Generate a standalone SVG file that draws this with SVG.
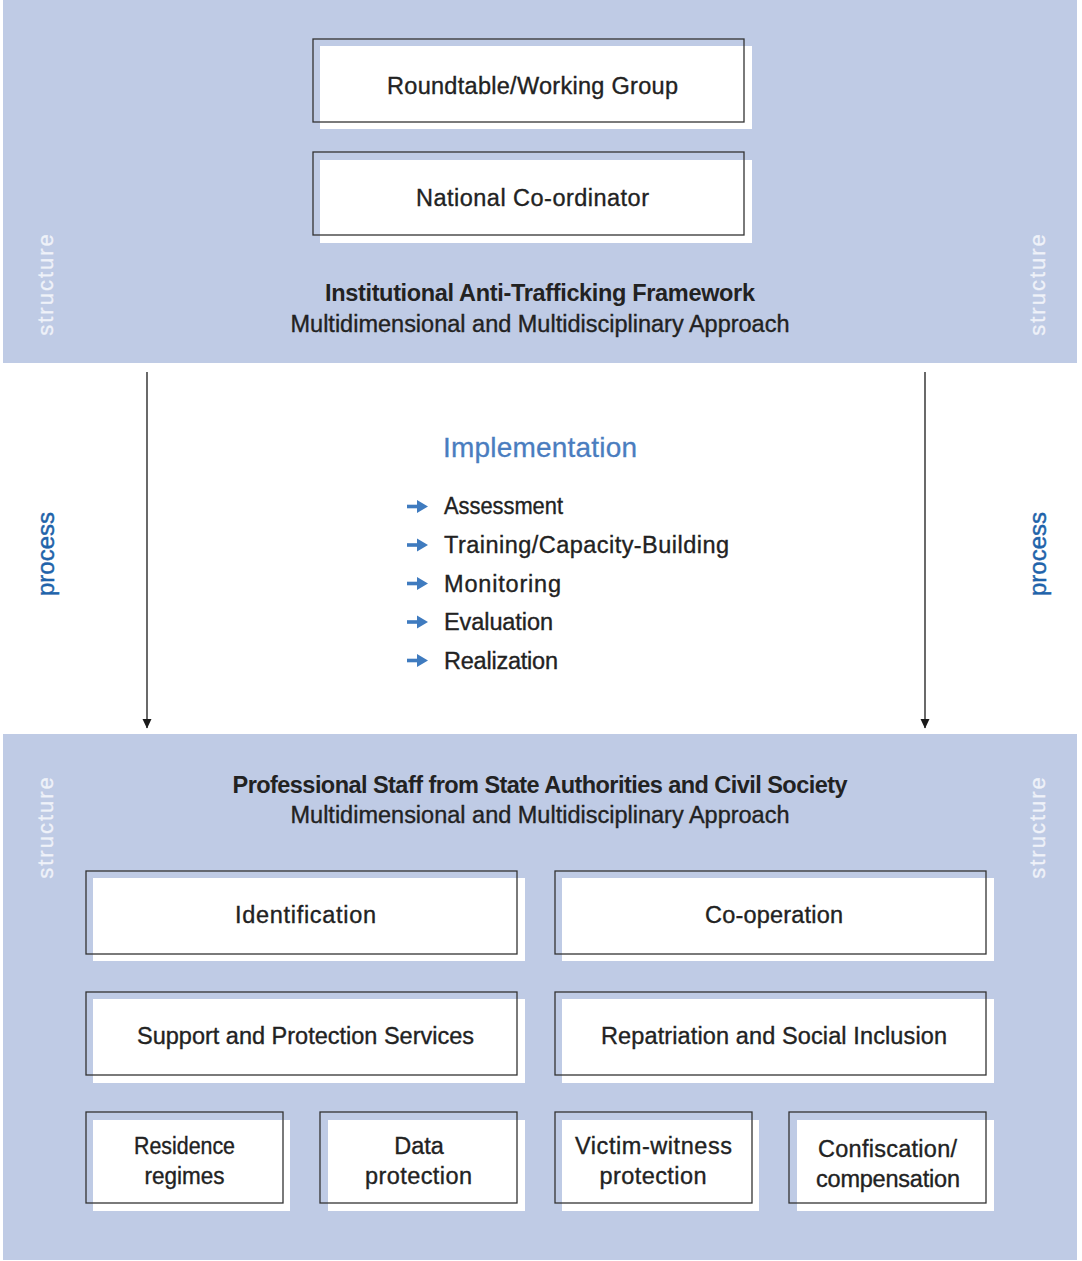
<svg xmlns="http://www.w3.org/2000/svg" xmlns:xlink="http://www.w3.org/1999/xlink" width="1082" height="1261" viewBox="0 0 1082 1261">
<style>
.panel{fill:#bfcbe5}
.shadow{fill:#ffffff}
.frame{fill:none;stroke:#333333;stroke-width:1.3}
.t{font-family:"Liberation Sans",Arial,sans-serif;fill:#222222;stroke:#222222;stroke-width:0.35;font-size:23.5px}
.b{font-weight:bold;stroke-width:0}
.c{text-anchor:middle}
.side{font-family:"Liberation Sans",Arial,sans-serif;fill:#eff2f9;stroke:#eff2f9;stroke-width:0.3;font-size:22px;letter-spacing:2px;text-anchor:middle}
.proc{font-family:"Liberation Sans",Arial,sans-serif;fill:#1f63aa;stroke:#1f63aa;stroke-width:0.45;font-size:24px;text-anchor:middle}
.impl{font-family:"Liberation Sans",Arial,sans-serif;fill:#4a7dbf;stroke:#4a7dbf;stroke-width:0.3;font-size:28px;text-anchor:middle}
.conn{stroke:#1a1a1a;stroke-width:1.3;fill:none}
.bullet{fill:#3f7bbf}
</style>
<defs>
<marker id="ah" markerWidth="10" markerHeight="10" refX="9" refY="5" orient="auto" markerUnits="userSpaceOnUse">
<path d="M0,0.5 L9.5,5 L0,9.5 Z" fill="#1a1a1a"/>
</marker>
<g id="blt">
<rect x="0" y="-1.8" width="12" height="3.6" class="bullet"/>
<path d="M10,-6.5 L21,0 L10,6.5 Z" class="bullet"/>
</g>
</defs>

<g id="panel-top">
<rect x="3" y="0" width="1074" height="363" class="panel"/>
<text class="side" transform="translate(53,284) rotate(-90)">structure</text>
<text class="side" transform="translate(1045,284) rotate(-90)">structure</text>
<text class="t b c" x="540" y="301" textLength="430" lengthAdjust="spacing">Institutional Anti-Trafficking Framework</text>
<text class="t c" x="540" y="332" textLength="499" lengthAdjust="spacing">Multidimensional and Multidisciplinary Approach</text>
</g>

<g id="node-roundtable">
<rect x="320" y="46" width="432" height="83" class="shadow"/>
<rect x="313" y="39" width="431" height="83" class="frame"/>
<text class="t c" x="532.5" y="94" font-size="24" textLength="291" lengthAdjust="spacing">Roundtable/Working Group</text>
</g>
<g id="node-coordinator">
<rect x="320" y="160" width="432" height="83" class="shadow"/>
<rect x="313" y="152" width="431" height="83" class="frame"/>
<text class="t c" x="532.5" y="206" font-size="24" textLength="233" lengthAdjust="spacing">National Co-ordinator</text>
</g>

<g id="implementation">
<text class="proc" transform="translate(54,554) rotate(-90)">process</text>
<text class="proc" transform="translate(1046,554) rotate(-90)">process</text>
<text class="impl" x="540" y="457" textLength="194" lengthAdjust="spacing">Implementation</text>
<use xlink:href="#blt" href="#blt" x="407" y="506.5"/>
<use xlink:href="#blt" href="#blt" x="407" y="545"/>
<use xlink:href="#blt" href="#blt" x="407" y="583.5"/>
<use xlink:href="#blt" href="#blt" x="407" y="622"/>
<use xlink:href="#blt" href="#blt" x="407" y="660.5"/>
<text class="t" x="444" y="514" font-size="24" textLength="119" lengthAdjust="spacingAndGlyphs">Assessment</text>
<text class="t" x="444" y="553" font-size="24" textLength="285" lengthAdjust="spacing">Training/Capacity-Building</text>
<text class="t" x="444" y="591.5" font-size="24" textLength="117" lengthAdjust="spacing">Monitoring</text>
<text class="t" x="444" y="630" font-size="24" textLength="109" lengthAdjust="spacing">Evaluation</text>
<text class="t" x="444" y="668.5" font-size="24" textLength="114" lengthAdjust="spacing">Realization</text>
</g>

<g id="connectors">
<line x1="147" y1="372" x2="147" y2="728" class="conn" marker-end="url(#ah)"/>
<line x1="925" y1="372" x2="925" y2="728" class="conn" marker-end="url(#ah)"/>
</g>

<g id="panel-bottom">
<rect x="3" y="734" width="1074" height="526" class="panel"/>
<text class="side" transform="translate(53,827) rotate(-90)">structure</text>
<text class="side" transform="translate(1045,827) rotate(-90)">structure</text>
<text class="t b c" x="540" y="793" textLength="615" lengthAdjust="spacing">Professional Staff from State Authorities and Civil Society</text>
<text class="t c" x="540" y="823" textLength="499" lengthAdjust="spacing">Multidimensional and Multidisciplinary Approach</text>
</g>

<g id="node-identification">
<rect x="93" y="878" width="432" height="83" class="shadow"/>
<rect x="86" y="871" width="431" height="83" class="frame"/>
<text class="t c" x="305.5" y="923" textLength="141" lengthAdjust="spacing">Identification</text>
</g>
<g id="node-cooperation">
<rect x="562" y="878" width="432" height="83" class="shadow"/>
<rect x="555" y="871" width="431" height="83" class="frame"/>
<text class="t c" x="774" y="923" textLength="138" lengthAdjust="spacing">Co-operation</text>
</g>
<g id="node-support">
<rect x="93" y="999" width="432" height="84" class="shadow"/>
<rect x="86" y="992" width="431" height="83" class="frame"/>
<text class="t c" x="305.5" y="1044" textLength="337" lengthAdjust="spacing">Support and Protection Services</text>
</g>
<g id="node-repatriation">
<rect x="562" y="999" width="432" height="84" class="shadow"/>
<rect x="555" y="992" width="431" height="83" class="frame"/>
<text class="t c" x="774" y="1044" textLength="346" lengthAdjust="spacing">Repatriation and Social Inclusion</text>
</g>
<g id="node-residence">
<rect x="93" y="1120" width="197" height="91" class="shadow"/>
<rect x="86" y="1112" width="197" height="91" class="frame"/>
<text class="t c" x="184.5" y="1154" textLength="101" lengthAdjust="spacingAndGlyphs">Residence</text>
<text class="t c" x="184.5" y="1184" textLength="80" lengthAdjust="spacingAndGlyphs">regimes</text>
</g>
<g id="node-data">
<rect x="328" y="1120" width="197" height="91" class="shadow"/>
<rect x="320" y="1112" width="197" height="91" class="frame"/>
<text class="t c" x="419" y="1154">Data</text>
<text class="t c" x="418.5" y="1184" textLength="107" lengthAdjust="spacing">protection</text>
</g>
<g id="node-victim">
<rect x="562" y="1120" width="197" height="91" class="shadow"/>
<rect x="555" y="1112" width="197" height="91" class="frame"/>
<text class="t c" x="653.5" y="1154" textLength="157" lengthAdjust="spacing">Victim-witness</text>
<text class="t c" x="653" y="1184" textLength="107" lengthAdjust="spacing">protection</text>
</g>
<g id="node-confiscation">
<rect x="797" y="1120" width="197" height="91" class="shadow"/>
<rect x="789" y="1112" width="197" height="91" class="frame"/>
<text class="t c" x="887.5" y="1157" textLength="139" lengthAdjust="spacing">Confiscation/</text>
<text class="t c" x="888" y="1187" textLength="144" lengthAdjust="spacing">compensation</text>
</g>
</svg>
